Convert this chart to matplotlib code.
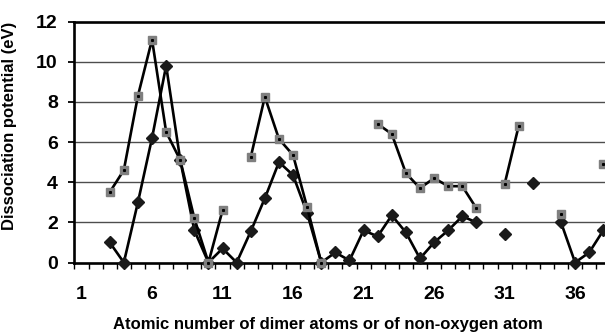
#!/usr/bin/env python3

import matplotlib
matplotlib.use("Agg")
import matplotlib.pyplot as plt
import numpy as np

plt.rcParams['font.family'] = ['Liberation Sans', 'DejaVu Sans']
plt.rcParams['font.weight'] = 'bold'

# atomic number 1..38, gaps where no value
atomic = list(range(1, 39))
squares = [None, None, 3.5, 4.6, 8.3, 11.1, 6.5, 5.1, 2.2, 0, 2.6, None,
           5.25, 8.25, 6.15, 5.35, 2.75, 0, None, None, None, 6.9, 6.4, 4.45,
           3.7, 4.2, 3.8, 3.8, 2.7, None, 3.9, 6.8, None, None, 2.4, None,
           None, 4.9]
diamonds = [None, None, 1.0, 0, 3.0, 6.2, 9.8, 5.1, 1.6, 0, 0.7, 0,
            1.55, 3.2, 5.0, 4.35, 2.45, 0, 0.5, 0.1, 1.6, 1.3, 2.35, 1.5,
            0.2, 1.0, 1.6, 2.3, 2.0, None, 1.4, None, 3.95, None, 2.0, 0,
            0.5, 1.6]
xtick_labels = [1, 6, 11, 16, 21, 26, 31, 36]

x = np.array(atomic)
sq = np.array([np.nan if v is None else v for v in squares], dtype=float)
di = np.array([np.nan if v is None else v for v in diamonds], dtype=float)

fig = plt.figure(figsize=(6.05, 3.35), dpi=100)
ax = fig.add_axes([0.1231, 0.2164, 0.8769, 0.7194])

for yv in [2, 4, 6, 8, 10]:
    ax.axhline(yv, color='#4d4d4d', lw=1.0, zorder=1)

ax.plot(x, di, color='black', lw=1.9, marker='D', ms=6.5,
        mfc='#1a1a1a', mec='#1a1a1a', zorder=3, clip_on=False)
ax.plot(x, sq, color='black', lw=1.9, marker='s', ms=6,
        mfc='#7f7f7f', mec='#7f7f7f', zorder=4, clip_on=False)
ax.plot(x, sq, ls='none', marker='s', ms=1.2, mfc='black', mec='black',
        zorder=5, clip_on=False)

ax.set_xlim(0.5, 38.12)
ax.set_ylim(0, 12)
ax.set_yticks(range(0, 13, 2))
ax.set_xticks(xtick_labels)
ax.set_xticks(np.arange(0.5, 38.5, 1.0), minor=True)
ax.tick_params(axis='x', which='major', length=0, pad=17, labelsize=14)
ax.tick_params(axis='x', which='minor', length=4, width=1.0, direction='out')
ax.tick_params(axis='y', length=4, width=1.3, direction='out', pad=8,
               labelsize=14)

for s in ['left', 'bottom', 'top']:
    ax.spines[s].set_linewidth(1.9)
ax.spines['right'].set_visible(False)

ax.set_ylabel('Dissociation potential (eV)', fontsize=12, fontweight='bold')
ax.yaxis.set_label_coords(-0.108, 0.566)
ax.set_xlabel('Atomic number of dimer atoms or of non-oxygen atom',
              fontsize=12, fontweight='bold')
ax.xaxis.set_label_coords(0.478, -0.228)

fig.savefig('out.png', dpi=100)
